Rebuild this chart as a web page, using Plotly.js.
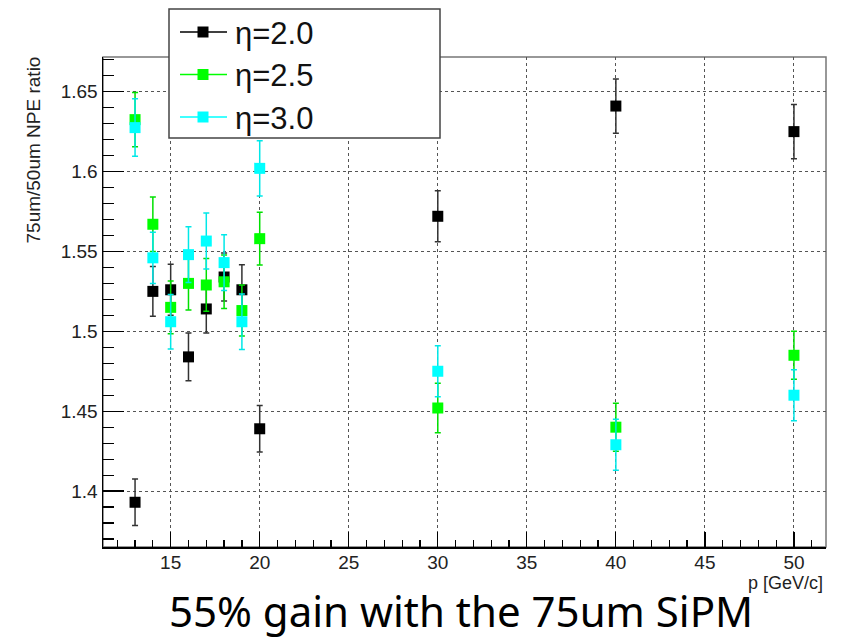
<!DOCTYPE html>
<html>
<head>
<meta charset="utf-8">
<script src="https://cdn.plot.ly/plotly-3.0.1.min.js"></script>
<style>html,body{margin:0;padding:0;background:#fff;}#chart{width:846px;height:639px;}</style>
</head>
<body>
<div id="chart"></div>
<script>
// ---- data ----
var momentum = [13, 14, 15, 16, 17, 18, 19, 20, 30, 40, 50];
var ratioEta20 = [1.393, 1.525, 1.526, 1.484, 1.514, 1.534, 1.526, 1.439, 1.572, 1.641, 1.625];
var errEta20   = [0.0145, 0.0155, 0.016, 0.015, 0.015, 0.015, 0.0156, 0.0145, 0.016, 0.017, 0.017];
var ratioEta25 = [1.6325, 1.567, 1.515, 1.530, 1.529, 1.531, 1.513, 1.558, 1.452, 1.440, 1.485];
var errEta25   = [0.017, 0.017, 0.0165, 0.0166, 0.0165, 0.0167, 0.016, 0.0165, 0.0155, 0.015, 0.015];
var ratioEta30 = [1.6275, 1.546, 1.506, 1.548, 1.5565, 1.543, 1.506, 1.602, 1.475, 1.429, 1.460];
var errEta30   = [0.018, 0.016, 0.017, 0.0175, 0.0175, 0.0175, 0.0174, 0.0173, 0.016, 0.016, 0.016];
var seriesNames = ['η=2.0', 'η=2.5', 'η=3.0'];
var yTickVals = [1.4, 1.45, 1.5, 1.55, 1.6, 1.65];
var yTickText = ['1.4', '1.45', '1.5', '1.55', '1.6', '1.65'];
var xTickVals = [15, 20, 25, 30, 35, 40, 45, 50];
var xTickText = ['15', '20', '25', '30', '35', '40', '45', '50'];

// ---- layout geometry (pixels) ----
var W = 846, H = 639;
var L = 103, R = 826, T = 57, B = 547;
function px(x) { return (x - L) / (R - L); }
function py(y) { return (B - y) / (B - T); }

var colors = ['#000000', '#00ff00', '#00ffff'];
var errColors = ['#333333', '#00e000', '#00e8e8'];
var ys = [ratioEta20, ratioEta25, ratioEta30];
var es = [errEta20, errEta25, errEta30];

var traces = [];
for (var i = 0; i < 3; i++) {
  traces.push({
    x: momentum, y: ys[i], type: 'scatter', mode: 'markers', name: seriesNames[i],
    marker: {symbol: 'square', size: 11, color: colors[i]},
    error_y: {type: 'data', array: es[i], visible: true, color: errColors[i], thickness: 1.5, width: 3},
    showlegend: false, hoverinfo: 'x+y'
  });
}

var tickFont = {family: 'Liberation Sans', size: 19, color: '#222'};

var shapes = [
  {type: 'rect', xref: 'paper', yref: 'paper', x0: 0, x1: 1, y0: 0, y1: 1,
   line: {color: '#777', width: 1.5}, fillcolor: 'rgba(0,0,0,0)', layer: 'below'},
  // legend box
  {type: 'rect', xref: 'paper', yref: 'paper', x0: px(169), x1: px(440), y0: py(138), y1: py(9),
   line: {color: '#444', width: 1.5}, fillcolor: '#fff', layer: 'above'}
];
var annotations = [
  {text: '75um/50um NPE ratio', xref: 'paper', yref: 'paper', x: px(33), y: py(55),
   xanchor: 'center', yanchor: 'top', textangle: -90, showarrow: false,
   font: {family: 'Liberation Sans', size: 19, color: '#222'}},
  {text: 'p [GeV/c]', xref: 'paper', yref: 'paper', x: px(825), y: py(583),
   xanchor: 'right', yanchor: 'middle', showarrow: false,
   font: {family: 'Liberation Sans', size: 18, color: '#222'}},
  {text: '55% gain with the 75um SiPM', xref: 'paper', yref: 'paper', x: px(461), y: py(610),
   xanchor: 'center', yanchor: 'middle', showarrow: false,
   font: {family: 'Noto Sans', size: 42, color: '#000'}}
];
// legend entries (line + square marker + label)
var rowY = [32, 74.5, 117];
for (var k = 0; k < 3; k++) {
  shapes.push({type: 'line', xref: 'paper', yref: 'paper', x0: px(180), x1: px(227), y0: py(rowY[k]), y1: py(rowY[k]),
    line: {color: colors[k], width: 1.5}, layer: 'above'});
  shapes.push({type: 'rect', xref: 'paper', yref: 'paper', x0: px(197.5), x1: px(208.5), y0: py(rowY[k] + 5.5), y1: py(rowY[k] - 5.5),
    line: {width: 0}, fillcolor: colors[k], layer: 'above'});
  annotations.push({text: seriesNames[k], xref: 'paper', yref: 'paper', x: px(233), y: py(rowY[k] + 1),
    xanchor: 'left', yanchor: 'middle', showarrow: false,
    font: {family: 'Liberation Sans', size: 31, color: '#111'}});
}

var layout = {
  width: W, height: H,
  margin: {l: L, r: W - R, t: T, b: H - B, pad: 0},
  paper_bgcolor: '#fff', plot_bgcolor: '#fff',
  showlegend: false,
  xaxis: {
    range: [11.2, 51.8], tickvals: xTickVals, ticktext: xTickText,
    ticks: 'inside', ticklen: 15, tickwidth: 1.2, tickcolor: '#000', ticklabelstandoff: -2,
    showline: true, linecolor: '#000', linewidth: 1.5, mirror: false,
    showgrid: true, gridcolor: '#555', griddash: 'dot', gridwidth: 1,
    zeroline: false, tickfont: tickFont,
    minor: {dtick: 1, tick0: 0, ticks: 'inside', ticklen: 7, tickwidth: 1.2, tickcolor: '#000', showgrid: false}
  },
  yaxis: {
    range: [1.365, 1.6717], tickvals: yTickVals, ticktext: yTickText,
    ticks: 'inside', ticklen: 21, tickwidth: 1.2, tickcolor: '#000',
    showline: true, linecolor: '#000', linewidth: 1.5, mirror: false,
    showgrid: true, gridcolor: '#555', griddash: 'dot', gridwidth: 1,
    zeroline: false, tickfont: tickFont,
    minor: {dtick: 0.01, tick0: 0, ticks: 'inside', ticklen: 11, tickwidth: 1.2, tickcolor: '#000', showgrid: false}
  },
  shapes: shapes,
  annotations: annotations
};

Plotly.newPlot('chart', traces, layout, {displayModeBar: false, staticPlot: true});
</script>
</body>
</html>
